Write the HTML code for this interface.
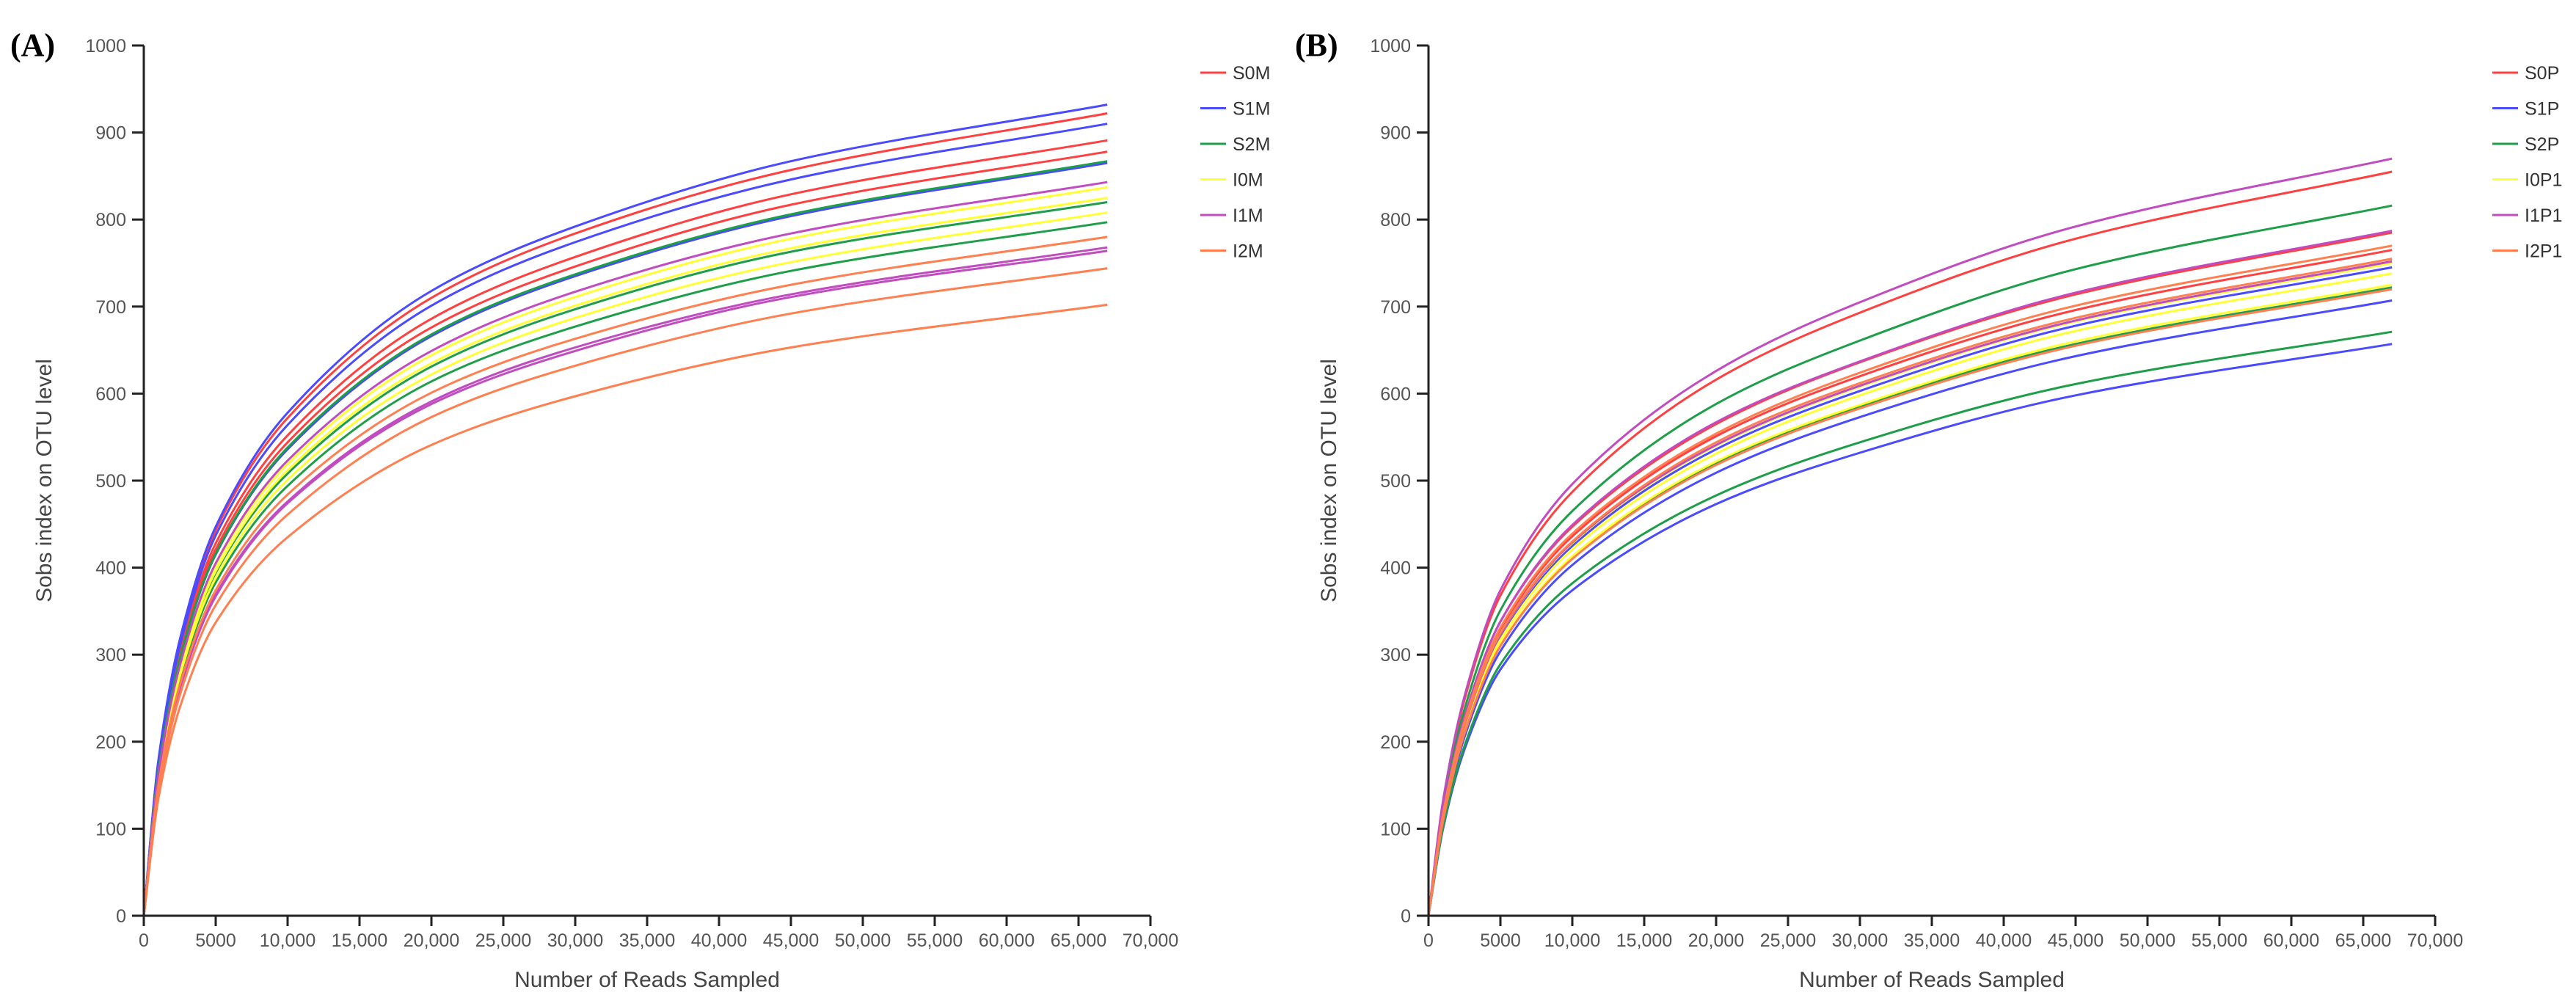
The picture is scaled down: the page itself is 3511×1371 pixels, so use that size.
<!DOCTYPE html>
<html><head><meta charset="utf-8">
<style>
html,body{margin:0;padding:0;background:#fff;}
svg{display:block;font-family:"Liberation Sans",Arial,sans-serif;}
</style></head>
<body>
<svg id="fig" width="3511" height="1371" viewBox="0 0 3511 1371" xmlns="http://www.w3.org/2000/svg"></svg>
<script>
// ---- shared axis data ----
const xSamples = [0,1000,2500,5000,10000,20000,30000,45000,67000];
const xTicks = [0,5000,10000,15000,20000,25000,30000,35000,40000,45000,50000,55000,60000,65000,70000];
const xTickLabels = ["0","5000","10,000","15,000","20,000","25,000","30,000","35,000","40,000","45,000","50,000","55,000","60,000","65,000","70,000"];
const yTicks = [0,100,200,300,400,500,600,700,800,900,1000];

// ---- panel A series ----
const A_S0M = [
 [0,175,313,443,572,710,784,857,922],
 [0,169,303,428,552,686,757,829,891],
 [0,167,299,421,544,676,746,817,878]];
const A_S1M = [
 [0,177,317,447,578,718,792,867,932],
 [0,173,309,437,564,701,774,846,910],
 [0,164,294,415,536,666,735,804,865]];
const A_S2M = [
 [0,165,295,416,538,668,737,806,867],
 [0,156,279,394,508,631,697,763,820],
 [0,151,271,383,494,614,677,741,797]];
const A_I0M = [
 [0,159,285,402,519,644,711,778,837],
 [0,157,281,396,512,635,701,767,825],
 [0,154,275,388,501,622,687,751,808]];
const A_I1M = [
 [0,160,287,405,523,649,717,784,843],
 [0,146,261,369,476,591,653,714,768],
 [0,145,260,367,474,588,649,711,764]];
const A_I2M = [
 [0,148,265,374,484,601,663,725,780],
 [0,141,253,357,461,573,632,692,744],
 [0,133,239,337,435,541,597,653,702]];

// ---- panel B series ----
const B_S0P = [
 [0,128,248,368,487,616,693,778,855],
 [0,118,228,338,447,565,636,714,785],
 [0,115,222,329,436,551,620,696,765]];
const B_S1P = [
 [0,112,216,320,425,536,603,678,745],
 [0,106,205,304,403,509,573,643,707],
 [0,99,191,283,374,473,532,598,657]];
const B_S2P = [
 [0,122,237,351,465,588,661,743,816],
 [0,108,209,310,412,520,585,657,722],
 [0,101,195,289,382,483,544,611,671]];
const B_I0P1 = [
 [0,113,218,323,428,540,608,683,750],
 [0,111,214,317,421,531,598,672,738],
 [0,109,210,312,413,522,587,660,725]];
const B_I1P1 = [
 [0,131,252,374,496,626,705,792,870],
 [0,118,228,338,449,567,637,716,787],
 [0,113,218,323,429,541,609,684,752]];
const B_I2P1 = [
 [0,116,223,331,439,554,624,701,770],
 [0,113,219,325,430,544,612,687,755],
 [0,108,209,310,410,518,583,655,720]];

const legendA = ["S0M","S1M","S2M","I0M","I1M","I2M"];
const legendB = ["S0P","S1P","S2P","I0P1","I1P1","I2P1"];
const colors = ["#ff4040","#4a4aff","#1f9e4a","#ffff33","#c04cc0","#ff7f50"];

const NS="http://www.w3.org/2000/svg";
const svg=document.getElementById('fig');
function mk(tag,attrs,parent){const e=document.createElementNS(NS,tag);for(const k in attrs)e.setAttribute(k,attrs[k]);(parent||svg).appendChild(e);return e;}

function monoPath(px,py){
  const n=px.length;const d=[],m=[];
  for(let i=0;i<n-1;i++)d.push((py[i+1]-py[i])/(px[i+1]-px[i]));
  m[0]=d[0];m[n-1]=d[n-2];
  for(let i=1;i<n-1;i++){m[i]=(d[i-1]*d[i]<=0)?0:2/(1/d[i-1]+1/d[i]);}
  let s="M"+px[0].toFixed(1)+","+py[0].toFixed(1);
  for(let i=0;i<n-1;i++){const h=px[i+1]-px[i];
    s+=" C"+(px[i]+h/3).toFixed(1)+","+(py[i]+m[i]*h/3).toFixed(1)+" "+(px[i+1]-h/3).toFixed(1)+","+(py[i+1]-m[i+1]*h/3).toFixed(1)+" "+px[i+1].toFixed(1)+","+py[i+1].toFixed(1);}
  return s;
}

function panel(cfg){
  const g=mk('g',{});
  
  
  const x0=cfg.x0,y0=1248,yTop=62,xMax=70000;
  const xs=v=>x0+v/xMax*1372;
  const ys=v=>y0-v/1000*(y0-yTop);
  // series
  const sg=mk('g',{fill:'none','stroke-width':3},g);
  
  
  cfg.series.forEach((grp,gi)=>{grp.forEach((arr,k)=>{
    const p=mk('path',{d:monoPath(xSamples.map(xs),arr.map(ys)),stroke:colors[gi]},sg);
    
    
  });});
  // axes
  const ax=mk('g',{stroke:'#222','stroke-width':3},g);
  
  
  mk('line',{x1:x0,y1:yTop,x2:x0,y2:y0+14},ax);
  mk('line',{x1:x0-16,y1:y0,x2:xs(70000),y2:y0},ax);
  yTicks.forEach(v=>{
    mk('line',{x1:x0-16,y1:ys(v),x2:x0,y2:ys(v)},ax);
    const t=mk('text',{x:x0-24,y:ys(v)+9,'text-anchor':'end','font-size':25,fill:'#555',stroke:'none'},g);
    t.textContent=v;
    
    
  });
  xTicks.forEach((v,i)=>{
    mk('line',{x1:xs(v),y1:y0,x2:xs(v),y2:y0+14},ax);
    const t=mk('text',{x:xs(v),y:1290,'text-anchor':'middle','font-size':25,fill:'#555',stroke:'none'},g);
    t.textContent=xTickLabels[i];
    
    
  });
  const xt=mk('text',{x:(x0+xs(70000))/2,y:1345,'text-anchor':'middle','font-size':30,fill:'#444'},g);
  xt.textContent='Number of Reads Sampled';
  
  
  const yt=mk('text',{x:0,y:0,'text-anchor':'middle','font-size':30,fill:'#444',transform:'translate('+(x0-126)+',655) rotate(-90)'},g);
  yt.textContent='Sobs index on OTU level';
  
  
  const pl=mk('text',{x:x0-182,y:76,'font-size':44,'font-weight':'bold','font-family':'"Liberation Serif",serif',fill:'#000'},g);
  pl.textContent=cfg.label;
  
  
  // legend
  cfg.legend.forEach((nm,i)=>{
    const lg=mk('g',{},g);
    
    
    const ly=99+i*48.5;
    mk('line',{x1:cfg.lx,y1:ly,x2:cfg.lx+35,y2:ly,stroke:colors[i],'stroke-width':3},lg);
    const t=mk('text',{x:cfg.lx+44,y:ly+9,'font-size':25,fill:'#333'},lg);
    t.textContent=nm;
  });
}
panel({name:'panel-a',label:'(A)',x0:196,series:[A_S0M,A_S1M,A_S2M,A_I0M,A_I1M,A_I2M],legend:legendA,lx:1636});
panel({name:'panel-b',label:'(B)',x0:1947,series:[B_S0P,B_S1P,B_S2P,B_I0P1,B_I1P1,B_I2P1],legend:legendB,lx:3397});
</script>
</body></html>
